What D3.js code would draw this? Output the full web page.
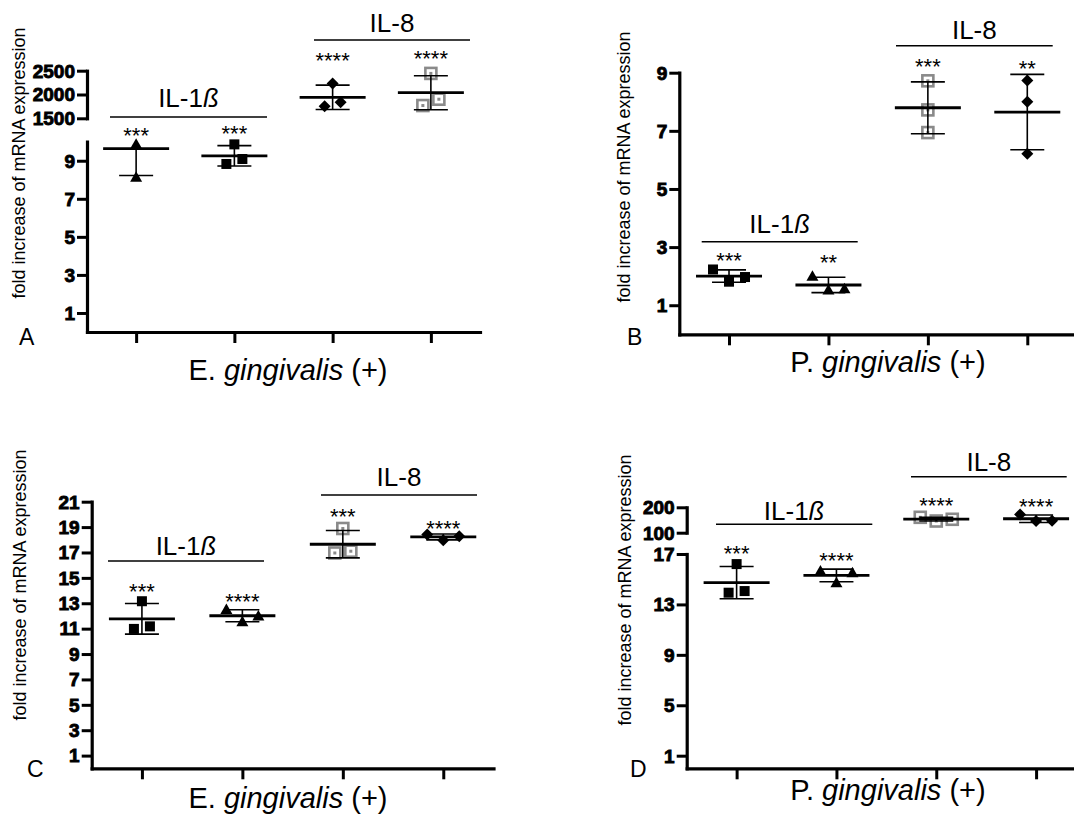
<!DOCTYPE html>
<html><head><meta charset="utf-8">
<script src="https://cdn.jsdelivr.net/npm/d3@7"></script>
<style>body{margin:0;background:#fff} svg{display:block} text.yl{font-family:Arial,'Liberation Sans',sans-serif;font-weight:900;font-size:19px}</style>
</head><body>
<svg id="c" width="1074" height="816"></svg>
<script>
// ---------------- DATA ----------------
const panelLetters = ["A", "B", "C", "D"];
const pathogenGenus = ["E.", "P.", "E.", "P."];
const pathogenSpecies = "gingivalis";
const yAxisTitle = "fold increase of mRNA expression";
const cytokineLabels = ["IL-1", "IL-8"];
const categories = ["IL-1b #1", "IL-1b #2", "IL-8 #1", "IL-8 #2"];

// replicate values (fold increase) per group
const valuesA = [[10.93, 9.86, 8.13], [9.86, 9.09, 8.83], [2232, 1753, 1838], [2443, 1901, 1768]];
const valuesB = [[2.23, 1.81, 1.97], [2.0, 1.52, 1.57], [8.72, 7.72, 6.94], [8.73, 8.0, 6.21]];
const valuesC = [[13.16, 10.98, 11.18], [12.5, 11.55, 12.0], [18.89, 16.96, 17.1], [18.42, 17.97, 18.28]];
const valuesD = [[16.2, 13.93, 14.06], [15.65, 14.72, 15.52], [160.6, 146, 152.8], [172, 146, 147]];

// scatter column slot of each replicate (GraphPad-style spreading)
const slotsA = [[0, 0, 0], [0, 1, -1], [0, -1, 1], [0, 1, -1]];
const slotsB = [[-2, 0, 2], [-2, 0, 2], [0, 0, 0], [0, 0, 0]];
const slotsC = [[0, -1, 1], [-2, 0, 2], [0, -1, 1], [-2, 0, 2]];
const slotsD = [[0, -1, 1], [-2, 0, 2], [-2, 0, 2], [-2, 0, 2]];

const shapesA = ["triangle", "square", "diamond", "openSquare"];
const shapesB = ["square", "triangle", "openSquare", "diamond"];
const shapesC = ["square", "triangle", "openSquare", "diamond"];
const shapesD = ["square", "triangle", "openSquare", "diamond"];

const starsA = ["***", "***", "****", "****"];
const starsB = ["***", "**", "***", "**"];
const starsC = ["***", "****", "***", "****"];
const starsD = ["***", "****", "****", "****"];

// axis segments (broken axes) and tick labels
const domainsA = [[0, 10], [1500, 2500]];
const ticksA = [[1, 3, 5, 7, 9], [1500, 2000, 2500]];
const domainsB = [[0, 9]];
const ticksB = [[1, 3, 5, 7, 9]];
const domainsC = [[0, 21]];
const ticksC = [[1, 3, 5, 7, 9, 11, 13, 15, 17, 19, 21]];
const domainsD = [[0, 17], [100, 200]];
const ticksD = [[1, 5, 9, 13, 17], [100, 200]];

// ---------------- LAYOUT ----------------
const FONT = "Liberation Sans, Arial, Helvetica, sans-serif";
const layouts = [
  { left: 87, right: 480, base: 332, segRanges: [[332, 141.7], [118.3, 70.7]],
    letter: [19, 345], title: [288, 380], ytitle: [25, 163],
    br1: [110, 267, 117, 107], br2: [314, 470, 40, 32], stars: [142.5, 140.5, 67.5, 65.5] },
  { left: 679.3, right: 1077, base: 334.3, segRanges: [[334.3, 72.7]],
    letter: [627, 345], title: [888, 372], ytitle: [630, 167],
    br1: [701.7, 857.7, 241.7, 233], br2: [896, 1052.7, 45.7, 39], stars: [267.5, 270, 73.5, 75.5] },
  { left: 91.7, right: 493.5, base: 768.3, segRanges: [[768.3, 501.7]],
    letter: [27, 777], title: [288, 808], ytitle: [26, 585],
    br1: [108, 264, 561, 555], br2: [321, 477, 495, 486], stars: [599, 609, 524, 536] },
  { left: 686.7, right: 1086, base: 768.3, segRanges: [[768.3, 554], [532.7, 507.3]],
    letter: [630, 777], title: [888, 800], ytitle: [630.7, 590],
    br1: [716, 872.3, 524.3, 520], br2: [911, 1066.7, 476.7, 471], stars: [561, 567.5, 512.5, 514] }
];

const panels = [
  { values: valuesA, slots: slotsA, shapes: shapesA, stars: starsA, domains: domainsA, ticks: ticksA },
  { values: valuesB, slots: slotsB, shapes: shapesB, stars: starsB, domains: domainsB, ticks: ticksB },
  { values: valuesC, slots: slotsC, shapes: shapesC, stars: starsC, domains: domainsC, ticks: ticksC },
  { values: valuesD, slots: slotsD, shapes: shapesD, stars: starsD, domains: domainsD, ticks: ticksD }
];

const svg = d3.select("#c");
const defs = svg.append("defs");
const SLOT = 8;

function drawMarker(g, shape, x, y) {
  if (shape === "square") {
    g.append("rect").attr("x", x - 5).attr("y", y - 5).attr("width", 10).attr("height", 10).attr("fill", "#000");
  } else if (shape === "triangle") {
    g.append("path").attr("d", `M${x},${y - 6}L${x + 6},${y + 4.5}L${x - 6},${y + 4.5}Z`).attr("fill", "#000");
  } else if (shape === "diamond") {
    g.append("path").attr("d", `M${x},${y - 6}L${x + 6},${y}L${x},${y + 6}L${x - 6},${y}Z`).attr("fill", "#000");
  } else if (shape === "openSquare") {
    g.append("rect").attr("x", x - 5.5).attr("y", y - 5.5).attr("width", 11).attr("height", 11)
      .attr("fill", "#fff").attr("stroke", "#8a8a8a").attr("stroke-width", 2.6);
    g.append("rect").attr("x", x - 1.5).attr("y", y - 1.5).attr("width", 3).attr("height", 3).attr("fill", "#8a8a8a");
  }
}

panels.forEach((p, pi) => {
  const L = layouts[pi];
  const g = svg.append("g");

  // x scale & axis
  const x = d3.scalePoint().domain(categories).range([L.left, L.right]).padding(0.5);
  const xAxis = g.append("g").attr("transform", `translate(0,${L.base})`)
    .call(d3.axisBottom(x).tickSize(11).tickSizeOuter(0).tickFormat(""));
  xAxis.select(".domain").attr("stroke-width", 3.2).attr("stroke-linecap", "square");
  xAxis.selectAll(".tick line").attr("stroke-width", 3);

  // y segments
  const segs = p.domains.map((dom, si) => {
    const r = L.segRanges[si];
    const y = d3.scaleLinear().domain(dom).range(r);
    const ax = g.append("g").attr("transform", `translate(${L.left},0)`)
      .call(d3.axisLeft(y).tickValues(p.ticks[si]).tickSize(10).tickSizeOuter(0).tickFormat(""));
    ax.select(".domain").attr("stroke-width", 3.2).attr("stroke-linecap", "square");
    ax.selectAll(".tick line").attr("stroke-width", 3);
    // bold tick labels placed with the same scale
    g.append("g").selectAll("text").data(p.ticks[si]).join("text")
      .attr("class", "yl")
      .attr("x", L.left - 12).attr("y", d => y(d)).attr("dy", "0.36em")
      .attr("text-anchor", "end")
      .style("fill", "#000").style("stroke", "#000").style("stroke-width", "0.9px")
      .style("paint-order", "stroke")
      .text(d => d3.format("d")(d));
    const id = `clip${pi}_${si}`;
    defs.append("clipPath").attr("id", id).append("rect")
      .attr("x", L.left).attr("y", r[1]).attr("width", L.right - L.left).attr("height", r[0] - r[1]);
    return { y, dom, id };
  });

  // groups
  p.values.forEach((vals, gi) => {
    const m = d3.mean(vals), sd = d3.deviation(vals);
    const seg = segs.slice().reverse().find(s => m >= s.dom[0]) || segs[0];
    const cx = x(categories[gi]);
    const mg = g.append("g");
    vals.forEach((v, k) => {
      if (v < seg.dom[0] || v > seg.dom[1]) return;
      drawMarker(mg, p.shapes[gi], cx + p.slots[gi][k] * SLOT, seg.y(v));
    });
    const lg = g.append("g").attr("clip-path", `url(#${seg.id})`);
    lg.append("line").attr("x1", cx).attr("x2", cx).attr("y1", seg.y(m - sd)).attr("y2", seg.y(m + sd))
      .attr("stroke", "#000").attr("stroke-width", 1.6);
    [m - sd, m + sd].forEach(v => lg.append("line").attr("x1", cx - 17).attr("x2", cx + 17)
      .attr("y1", seg.y(v)).attr("y2", seg.y(v)).attr("stroke", "#000").attr("stroke-width", 1.6));
    lg.append("line").attr("x1", cx - 33).attr("x2", cx + 33).attr("y1", seg.y(m)).attr("y2", seg.y(m))
      .attr("stroke", "#000").attr("stroke-width", 2.8);

    g.append("text").attr("x", cx).attr("y", L.stars[gi]).attr("text-anchor", "middle")
      .attr("font-family", FONT).attr("font-size", 22).text(p.stars[gi]);
  });

  // cytokine brackets
  [L.br1, L.br2].forEach((b, bi) => {
    g.append("line").attr("x1", b[0]).attr("x2", b[1]).attr("y1", b[2]).attr("y2", b[2])
      .attr("stroke", "#000").attr("stroke-width", 1.6);
    const t = g.append("text").attr("x", (b[0] + b[1]) / 2).attr("y", b[3]).attr("text-anchor", "middle")
      .attr("font-family", FONT).attr("font-size", 26);
    t.append("tspan").text(cytokineLabels[bi]);
    if (bi === 0) t.append("tspan").attr("font-style", "italic").text("ß");
  });

  // x title
  const xt = g.append("text").attr("x", L.title[0]).attr("y", L.title[1]).attr("text-anchor", "middle")
    .attr("font-family", FONT).attr("font-size", 29);
  xt.append("tspan").text(pathogenGenus[pi] + " ");
  xt.append("tspan").attr("font-style", "italic").text(pathogenSpecies);
  xt.append("tspan").text(" (+)");

  // y title
  g.append("text").attr("transform", `translate(${L.ytitle[0]},${L.ytitle[1]}) rotate(-90)`)
    .attr("text-anchor", "middle").attr("font-family", FONT).attr("font-size", 18).text(yAxisTitle);

  // panel letter
  g.append("text").attr("x", L.letter[0]).attr("y", L.letter[1]).attr("font-family", FONT)
    .attr("font-size", 23).text(panelLetters[pi]);
});
</script>
</body></html>
